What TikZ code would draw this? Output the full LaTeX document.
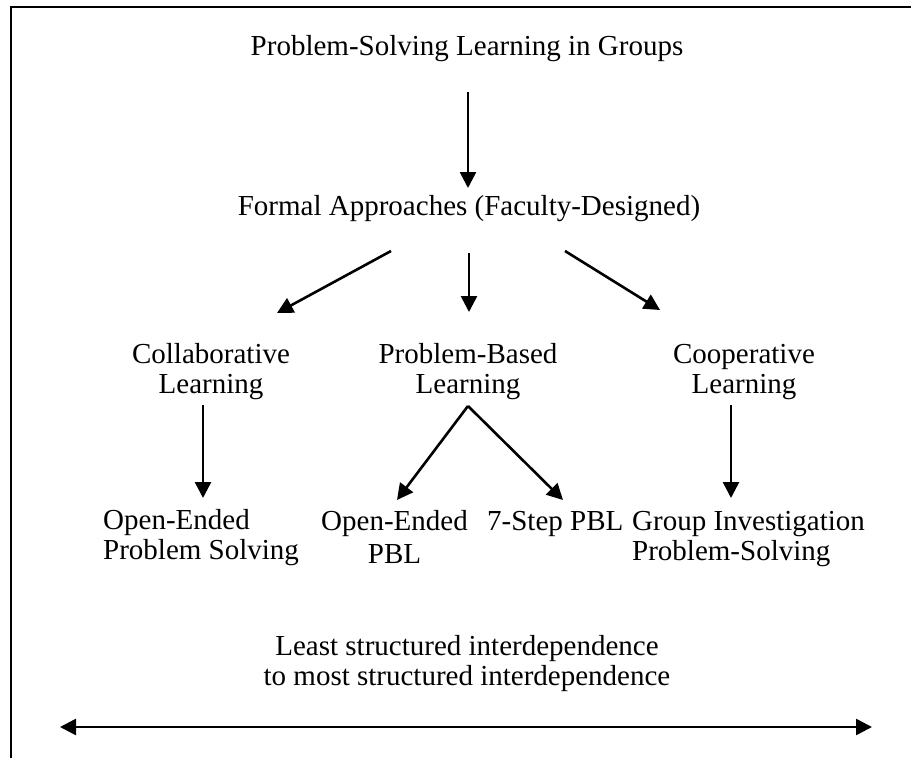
\documentclass[tikz,border=0pt]{standalone}
\usepackage{fontspec}
\setmainfont{Liberation Serif}
\usetikzlibrary{arrows.meta}

\begin{document}
\begin{tikzpicture}[x=1pt,y=-1pt,
    lbl/.style={anchor=base,inner sep=0pt,font=\fontsize{29}{30}\selectfont},
    arr/.style={line width=2.6pt,-{Triangle[length=16pt,width=16pt]}}]
  \useasboundingbox (0,0) rectangle (911,758);
  % open frame
  \draw[line width=2pt] (11,770) -- (11,7) -- (920,7);
  % labels (base = last line)
  \node[lbl] (title) at (467,55) {Problem-Solving Learning in Groups};
  \node[lbl] (formal) at (469,215) {Formal Approaches (Faculty-Designed)};
  \node[lbl,align=center] (collab) at (211,393) {Collaborative\\Learning};
  \node[lbl,align=center] (pbl) at (468,393) {Problem-Based\\Learning};
  \node[lbl,align=center] (coop) at (744,393) {Cooperative\\Learning};
  \node[lbl,anchor=base west,align=left] (oeps) at (103,559) {Open-Ended\\Problem Solving};
  \node[lbl,align=center] (oepbl) at (394.5,563) {Open-Ended\\[3pt]PBL};
  \node[lbl,anchor=base west] (seven) at (487,530) {7-Step PBL};
  \node[lbl,anchor=base west,align=left] (group) at (632,560) {Group Investigation\\Problem-Solving};
  \node[lbl,align=center] (range) at (467,685) {Least structured interdependence\\to most structured interdependence};
  \coordinate (least) at (60,727);
  \coordinate (most) at (872,727);
  % arrows
  \draw[arr] ([shift={(1,37)}]title.base) -- ([shift={(-1,-27)}]formal.base);
  \draw[arr] ([shift={(-78,36)}]formal.base) -- ([shift={(66,-80)}]collab.base);
  \draw[arr] ([shift={(0,38)}]formal.base) -- ([shift={(1,-81)}]pbl.base);
  \draw[arr] ([shift={(96,36)}]formal.base) -- ([shift={(-84,-83)}]coop.base);
  \draw[arr] ([shift={(-8,12)}]collab.base) -- ([shift={(100,-61)}]oeps.base west);
  \draw[arr] ([shift={(-13,12)}]coop.base) -- ([shift={(99,-62)}]group.base west);
  \draw[arr] ([shift={(0,13)}]pbl.base) -- ([shift={(2.5,-63)}]oepbl.base);
  \draw[arr] ([shift={(0,13)}]pbl.base) -- ([shift={(76,-30)}]seven.base west);
  \draw[arr,{Triangle[length=16pt,width=16pt]}-{Triangle[length=16pt,width=16pt]}] (least) -- (most);
\end{tikzpicture}
\end{document}
